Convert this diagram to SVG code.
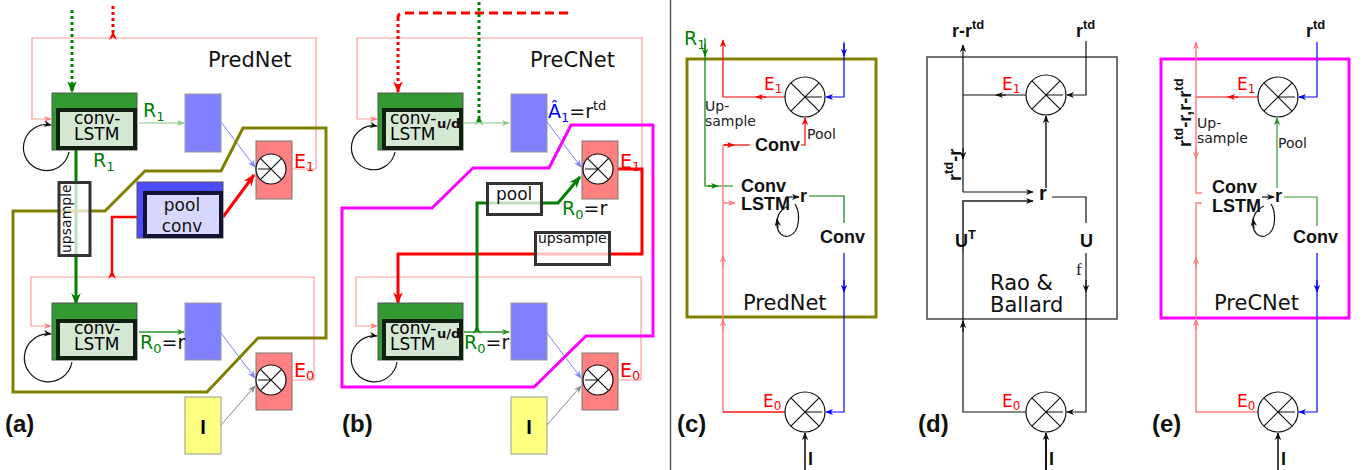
<svg xmlns="http://www.w3.org/2000/svg" width="1364" height="470" viewBox="0 0 1364 470">
<style>
.t{font-family:"DejaVu Sans",sans-serif}
.b{font-family:"Liberation Sans",Arial,sans-serif;font-weight:bold}
.lo{fill:#339933;stroke:#555;stroke-width:1}
.li{fill:#d5e8d4;stroke:#102010;stroke-width:4}
.pk{fill:none;stroke:#ff9999;stroke-width:1.2}
.bl{fill:#8080ff;stroke:#999;stroke-width:1}
.eb{fill:#ff8080;stroke:#777;stroke-width:1}
.yb{fill:#ffff80;stroke:#999;stroke-width:1}
.gb{fill:#fff;fill-opacity:.75;stroke:#333;stroke-width:3}
.op{fill:#fff;stroke:#111;stroke-width:1.2}
.ln{fill:none;stroke:#111;stroke-width:1.2}
.red{fill:#f00}.grn{fill:#008000}.blu{fill:#00f}
</style>
<defs>
<marker id="ak" viewBox="0 0 10 10" refX="9" refY="5" markerWidth="8" markerHeight="8" markerUnits="userSpaceOnUse" orient="auto"><path d="M0,1 L10,5 L0,9 L3,5 z" fill="#111"/></marker>
<marker id="agr" viewBox="0 0 10 10" refX="9" refY="5" markerWidth="8" markerHeight="8" markerUnits="userSpaceOnUse" orient="auto"><path d="M0,1 L10,5 L0,9 L3,5 z" fill="#888"/></marker>
<marker id="ar" viewBox="0 0 10 10" refX="9" refY="5" markerWidth="8" markerHeight="8" markerUnits="userSpaceOnUse" orient="auto"><path d="M0,1 L10,5 L0,9 L3,5 z" fill="#f00"/></marker>
<marker id="ar3" viewBox="0 0 10 10" refX="9" refY="5" markerWidth="12" markerHeight="12" markerUnits="userSpaceOnUse" orient="auto"><path d="M0,1 L10,5 L0,9 L3,5 z" fill="#f00"/></marker>
<marker id="ag" viewBox="0 0 10 10" refX="9" refY="5" markerWidth="8" markerHeight="8" markerUnits="userSpaceOnUse" orient="auto"><path d="M0,1 L10,5 L0,9 L3,5 z" fill="#008000"/></marker>
<marker id="ag3" viewBox="0 0 10 10" refX="9" refY="5" markerWidth="12" markerHeight="12" markerUnits="userSpaceOnUse" orient="auto"><path d="M0,1 L10,5 L0,9 L3,5 z" fill="#008000"/></marker>
<marker id="alg" viewBox="0 0 10 10" refX="9" refY="5" markerWidth="8" markerHeight="8" markerUnits="userSpaceOnUse" orient="auto"><path d="M0,1 L10,5 L0,9 L3,5 z" fill="#8fc88f"/></marker>
<marker id="amg" viewBox="0 0 10 10" refX="9" refY="5" markerWidth="8" markerHeight="8" markerUnits="userSpaceOnUse" orient="auto"><path d="M0,1 L10,5 L0,9 L3,5 z" fill="#2a922a"/></marker>
<marker id="ab" viewBox="0 0 10 10" refX="9" refY="5" markerWidth="8" markerHeight="8" markerUnits="userSpaceOnUse" orient="auto"><path d="M0,1 L10,5 L0,9 L3,5 z" fill="#00f"/></marker>
<marker id="alb" viewBox="0 0 10 10" refX="9" refY="5" markerWidth="8" markerHeight="8" markerUnits="userSpaceOnUse" orient="auto"><path d="M0,1 L10,5 L0,9 L3,5 z" fill="#8080ff"/></marker>
<marker id="ap" viewBox="0 0 10 10" refX="9" refY="5" markerWidth="8" markerHeight="8" markerUnits="userSpaceOnUse" orient="auto"><path d="M0,1 L10,5 L0,9 L3,5 z" fill="#ff8080"/></marker>
<g id="op15"><circle r="15" class="op"/><path d="M-10.6,-10.6 L10.6,10.6 M-10.6,10.6 L10.6,-10.6 M-13,0 L0,0" class="ln"/></g>
<g id="op20"><circle r="20" class="op"/><path d="M-14.1,-14.1 L14.1,14.1 M-14.1,14.1 L14.1,-14.1 M0,0 L17,0" class="ln"/></g>
</defs>
<rect width="1364" height="470" fill="#fff"/>

<!-- separator -->
<line x1="670.5" y1="0" x2="670.5" y2="470" stroke="#555" stroke-width="1.5"/>

<!-- ===== connectors ===== -->
<g id="connectors">
 <!-- (a) -->
 <path d="M292,169 L316,169 L316,38 L32,38 L32,119 L51,119" class="pk" marker-end="url(#ap)"/>
 <path d="M292,380 L314,380 L314,277 L31,277 L31,326 L51,326" class="pk" marker-end="url(#ap)"/>
 <path d="M113,6 L113,36" stroke="#f00" stroke-width="3" stroke-dasharray="3,3" fill="none"/>
 <polygon points="109,40 113,31 117,40 113,37" fill="#f00"/>
 <path d="M72,10 L72,92" stroke="#008000" stroke-width="3" stroke-dasharray="3,3" fill="none" marker-end="url(#ag3)"/>
 <path d="M69,152 A23,23 0 1 1 51,125" class="ln" marker-end="url(#ak)"/>
 <path d="M72,362 A24,24 0 1 1 51,334" class="ln" marker-end="url(#ak)"/>
 <path d="M139,123 L184,123" stroke="#a8d8a8" stroke-width="1.5" marker-end="url(#alg)"/>
 <path d="M139,332 L184,332" stroke="#2a922a" stroke-width="1.5" marker-end="url(#amg)"/>
 <path d="M221,122 L255,167" stroke="#8080ff" stroke-width="1" marker-end="url(#alb)"/>
 <path d="M221,333 L255,378" stroke="#8080ff" stroke-width="1" marker-end="url(#alb)"/>
 <path d="M221,425 L255,386" stroke="#888" stroke-width="1" marker-end="url(#agr)"/>
 <path d="M76,150 L76,304" stroke="#008000" stroke-width="3" marker-end="url(#ag3)"/>
 <path d="M223,217 L254,175" stroke="#f00" stroke-width="3" marker-end="url(#ar3)"/>
 <path d="M137,217 L112,217 L112,274" stroke="#f00" stroke-width="2.5" fill="none"/>
 <polygon points="108,279 112,270 116,279 112,276" fill="#f00"/>
 <polygon points="13,211 105,211 145,171 221,171 243,128 326,128 326,338 258,338 207,392 13,392" fill="none" stroke="#808000" stroke-width="3"/>

 <!-- (b) -->
 <path d="M618,169 L642,169 L642,38 L357,38 L357,119 L377,119" class="pk" marker-end="url(#ap)"/>
 <path d="M618,380 L641,380 L641,277 L356,277 L356,326 L377,326" class="pk" marker-end="url(#ap)"/>
 <path d="M568,13 L403,13 Q398,13 398,18" stroke="#f00" stroke-width="3" stroke-dasharray="9,5" fill="none"/>
 <path d="M398,18 L398,92" stroke="#f00" stroke-width="3" stroke-dasharray="3,3" fill="none" marker-end="url(#ar3)"/>
 <path d="M479,2 L479,118" stroke="#008000" stroke-width="3" stroke-dasharray="3,3" fill="none"/>
 <polygon points="475,125 479,115 483,125 479,122" fill="#008000"/>
 <path d="M395,152 A22,22 0 1 1 377,126" class="ln" marker-end="url(#ak)"/>
 <path d="M397,362 A23,23 0 1 1 377,336" class="ln" marker-end="url(#ak)"/>
 <path d="M464,123 L509,123" stroke="#a8d8a8" stroke-width="1.5" marker-end="url(#alg)"/>
 <path d="M464,332 L509,332" stroke="#2a922a" stroke-width="1.5" marker-end="url(#amg)"/>
 <path d="M547,122 L581,167" stroke="#8080ff" stroke-width="1" marker-end="url(#alb)"/>
 <path d="M547,333 L581,378" stroke="#8080ff" stroke-width="1" marker-end="url(#alb)"/>
 <path d="M547,425 L581,386" stroke="#888" stroke-width="1" marker-end="url(#agr)"/>
 <path d="M618,169 L642,169 L642,254 L398,254 L398,303" stroke="#f00" stroke-width="3" fill="none" marker-end="url(#ar3)"/>
 <path d="M477,330 L477,203 L558,203 L580,177" stroke="#008000" stroke-width="3" fill="none" marker-end="url(#ag3)"/>
 <polygon points="473,334 477,325 481,334 477,331" fill="#008000"/>
 <polygon points="342,208 432,208 473,168 549,168 571,125 653,125 653,336 586,336 534,387 342,387" fill="none" stroke="#f0f" stroke-width="3"/>

 <!-- (c) -->
 <rect x="687" y="59" width="189" height="258" fill="none" stroke="#808000" stroke-width="3"/>
 <path d="M705,38 L705,186 L733,186" stroke="#008000" stroke-width="1.2" fill="none"/>
 <path d="M705,44 L705,56" stroke="#008000" stroke-width="1.2" marker-end="url(#ag)"/>
 <path d="M708,186 L718,186" stroke="#008000" stroke-width="1.2" marker-end="url(#ag)"/>
 <path d="M785,97 L723,97 L723,40" stroke="#f00" stroke-width="1.2" fill="none" marker-end="url(#ar)"/>
 <path d="M766,97 L756,97" stroke="#f00" stroke-width="1.2" marker-end="url(#ar)"/>
 <path d="M844,42 L844,97 L826,97" stroke="#00f" stroke-width="1.2" fill="none" marker-end="url(#ab)"/>
 <path d="M844,44 L844,56" stroke="#00f" stroke-width="1.2" marker-end="url(#ab)"/>
 <path d="M801,145 L805,145 L805,118" stroke="#f00" stroke-width="1.2" fill="none" marker-end="url(#ar)"/>
 <path d="M750,145 L723,145" stroke="#f00" stroke-width="1.2" fill="none"/>
 <path d="M724,145 L734,145" stroke="#f00" stroke-width="1.2" marker-end="url(#ar)"/>
 <path d="M723,145 L723,412 L785,412" stroke="#ff8080" stroke-width="1.5" fill="none"/>
 <path d="M785,412 L723,412" stroke="#f00" stroke-width="1.2" fill="none"/>
 <path d="M723,203 L735,203" stroke="#ff8080" stroke-width="1.5" marker-end="url(#ap)"/>
 <path d="M723,266 L723,255" stroke="#ff8080" stroke-width="1.5" marker-end="url(#ap)"/>
 <path d="M723,330 L723,319" stroke="#ff8080" stroke-width="1.5" marker-end="url(#ap)"/>
 <path d="M786,197 L799,197" class="ln" marker-end="url(#ak)"/>
 <path d="M788,206 C770,214 776,240 789,236 C801,232 800,212 795,204" class="ln"/>
 <path d="M778,228 L777,219" class="ln" marker-end="url(#ak)"/>
 <path d="M809,196 L844,196 L844,223" stroke="#008000" stroke-width="1.2" fill="none"/>
 <path d="M844,253 L844,412 L826,412" stroke="#00f" stroke-width="1.2" fill="none" marker-end="url(#ab)"/>
 <path d="M844,280 L844,292" stroke="#00f" stroke-width="1.2" marker-end="url(#ab)"/>
 <path d="M805,470 L805,433" stroke="#444" stroke-width="2" marker-end="url(#ak)"/>

 <!-- (d) -->
 <rect x="927" y="57" width="190" height="262" fill="none" stroke="#444" stroke-width="1.5"/>
 <path d="M1086,41 L1086,95 L1067,95" class="ln" marker-end="url(#ak)"/>
 <path d="M1026,95 L963,95" class="ln"/>
 <path d="M1006,95 L996,95" class="ln" marker-end="url(#ak)"/>
 <path d="M963,192 L963,45" class="ln" marker-end="url(#ak)"/>
 <path d="M963,148 L963,159" class="ln" marker-end="url(#ak)"/>
 <path d="M963,192 L1033,192" class="ln" marker-end="url(#ak)"/>
 <path d="M963,253 L963,201 L1033,201" fill="none" stroke="#555" stroke-width="2" marker-end="url(#ak)"/>
 <path d="M1046,188 L1046,116" stroke="#555" stroke-width="2" marker-end="url(#ak)"/>
 <path d="M1052,197 L1086,197 L1086,223" class="ln"/>
 <path d="M1086,253 L1086,412 L1067,412" class="ln" marker-end="url(#ak)"/>
 <path d="M1086,280 L1086,292" class="ln" marker-end="url(#ak)"/>
 <path d="M1026,412 L963,412 L963,253" class="ln"/>
 <path d="M963,332 L963,321" class="ln" marker-end="url(#ak)"/>
 <path d="M1046,470 L1046,433" stroke="#111" stroke-width="2" marker-end="url(#ak)"/>

 <!-- (e) -->
 <rect x="1161" y="59" width="188" height="259" fill="none" stroke="#f0f" stroke-width="3"/>
 <path d="M1317,42 L1317,97 L1299,97" stroke="#00f" stroke-width="1.2" fill="none" marker-end="url(#ab)"/>
 <path d="M1258,97 L1196,97" stroke="#f00" stroke-width="1.2" fill="none"/>
 <path d="M1238,97 L1228,97" stroke="#f00" stroke-width="1.2" marker-end="url(#ar)"/>
 <path d="M1202,193 L1196,193 L1196,42" stroke="#ff8080" stroke-width="1.5" fill="none" marker-end="url(#ap)"/>
 <path d="M1196,148 L1196,159" stroke="#ff8080" stroke-width="1.5" marker-end="url(#ap)"/>
 <path d="M1277,188 L1277,118" stroke="#339933" stroke-width="1.2" marker-end="url(#amg)"/>
 <path d="M1262,197 L1274,197" class="ln" marker-end="url(#ak)"/>
 <path d="M1264,206 C1246,214 1252,240 1265,236 C1277,232 1276,212 1271,204" class="ln"/>
 <path d="M1254,228 L1253,219" class="ln" marker-end="url(#ak)"/>
 <path d="M1284,197 L1317,197 L1317,226" stroke="#339933" stroke-width="1.2" fill="none"/>
 <path d="M1317,253 L1317,412 L1299,412" stroke="#00f" stroke-width="1.2" fill="none" marker-end="url(#ab)"/>
 <path d="M1317,280 L1317,292" stroke="#00f" stroke-width="1.2" marker-end="url(#ab)"/>
 <path d="M1202,203 L1196,203 L1196,412 L1258,412" stroke="#ff8080" stroke-width="1.5" fill="none"/>
 <path d="M1196,268 L1196,257" stroke="#ff8080" stroke-width="1.5" marker-end="url(#ap)"/>
 <path d="M1196,330 L1196,319" stroke="#ff8080" stroke-width="1.5" marker-end="url(#ap)"/>
 <path d="M1278,470 L1278,433" stroke="#444" stroke-width="2" marker-end="url(#ak)"/>
</g>

<!-- ===== (a) nodes ===== -->
<g id="a-lstm1"><rect x="52" y="93" width="85" height="57" class="lo"/><rect x="58" y="110" width="77" height="38" class="li"/>
 <text x="74" y="124" class="t" font-size="17">conv-</text><text x="74" y="140" class="t" font-size="17">LSTM</text></g>
<g id="a-lstm0"><rect x="52" y="303" width="85" height="57" class="lo"/><rect x="58" y="321" width="77" height="37" class="li"/>
 <text x="74" y="334" class="t" font-size="17">conv-</text><text x="74" y="350" class="t" font-size="17">LSTM</text></g>
<g id="a-ahat1"><rect x="185" y="94" width="36" height="58" class="bl"/></g>
<g id="a-ahat0"><rect x="185" y="303" width="36" height="57" class="bl"/></g>
<g id="a-e1"><rect x="256" y="141" width="36" height="58" class="eb"/><use href="#op15" x="271" y="169"/></g>
<g id="a-e0"><rect x="256" y="353" width="36" height="57" class="eb"/><use href="#op15" x="271" y="380"/></g>
<g id="a-input"><rect x="185" y="397" width="36" height="57" class="yb"/><text x="203" y="434" class="b" font-size="20" text-anchor="middle">I</text></g>
<g id="a-upsample"><rect x="59" y="182.5" width="31" height="73" class="gb"/><text transform="translate(71,253) rotate(-90)" class="t" font-size="14" fill="#111">upsample</text></g>
<g id="a-poolconv"><rect x="137" y="182" width="86" height="56" fill="#4d4dff" stroke="#555"/><rect x="145" y="193" width="76" height="43" fill="#d8d8ff" stroke="#111133" stroke-width="4"/>
 <text x="182" y="211" class="t" font-size="17" text-anchor="middle" fill="#111">pool</text><text x="182" y="232" class="t" font-size="17" text-anchor="middle" fill="#111">conv</text></g>
<g id="a-labels">
 <text x="208" y="67" class="t" font-size="21" fill="#111">PredNet</text>
 <text x="143" y="117" class="t grn" font-size="19">R<tspan font-size="13" dy="4">1</tspan></text>
 <text x="93" y="167" class="t grn" font-size="19">R<tspan font-size="13" dy="4">1</tspan></text>
 <text x="294" y="168" class="t red" font-size="19">E<tspan font-size="13" dy="3">1</tspan></text>
 <text x="294" y="377" class="t red" font-size="19">E<tspan font-size="13" dy="3">0</tspan></text>
 <text x="140" y="349" class="t" font-size="19"><tspan class="grn">R</tspan><tspan class="grn" font-size="13" dy="4">0</tspan><tspan dy="-4" fill="#111">=r</tspan></text>
 <text x="5" y="432" class="b" font-size="24" fill="#111">(a)</text>
</g>

<!-- ===== (b) nodes ===== -->
<g id="b-lstm1"><rect x="378" y="93" width="85" height="57" class="lo"/><rect x="384" y="110" width="77" height="38" class="li"/>
 <text x="390" y="124" class="t" font-size="17">conv-</text><text x="390" y="140" class="t" font-size="17">LSTM</text>
 <text x="437" y="128" class="t" font-size="13" font-weight="bold" fill="#111">u/d</text></g>
<g id="b-lstm0"><rect x="378" y="303" width="85" height="57" class="lo"/><rect x="384" y="321" width="77" height="37" class="li"/>
 <text x="390" y="334" class="t" font-size="17">conv-</text><text x="390" y="350" class="t" font-size="17">LSTM</text>
 <text x="437" y="338" class="t" font-size="13" font-weight="bold" fill="#111">u/d</text></g>
<g id="b-ahat1"><rect x="511" y="94" width="36" height="58" class="bl"/></g>
<g id="b-ahat0"><rect x="511" y="303" width="36" height="57" class="bl"/></g>
<g id="b-e1"><rect x="582" y="141" width="36" height="58" class="eb"/><use href="#op15" x="598" y="169"/></g>
<g id="b-e0"><rect x="582" y="353" width="36" height="57" class="eb"/><use href="#op15" x="598" y="380"/></g>
<g id="b-input"><rect x="511" y="397" width="36" height="57" class="yb"/><text x="529" y="434" class="b" font-size="20" text-anchor="middle">I</text></g>
<g id="b-pool"><rect x="487.5" y="183.5" width="54" height="31" class="gb"/><text x="496" y="200" class="t" font-size="17" fill="#111">pool</text></g>
<g id="b-upsample"><rect x="535.5" y="232.5" width="74" height="32" class="gb"/><text x="538" y="243" class="t" font-size="14" fill="#111">upsample</text></g>
<g id="b-labels">
 <text x="530" y="67" class="t" font-size="21" fill="#111">PreCNet</text>
 <text x="548" y="118" class="t" font-size="19"><tspan class="blu">Â</tspan><tspan class="blu" font-size="13" dy="4">1</tspan><tspan dy="-4" fill="#111">=r</tspan><tspan font-size="13" dy="-8" fill="#111">td</tspan></text>
 <text x="620" y="168" class="t red" font-size="19">E<tspan font-size="13" dy="3">1</tspan></text>
 <text x="620" y="377" class="t red" font-size="19">E<tspan font-size="13" dy="3">0</tspan></text>
 <text x="562" y="215" class="t" font-size="19"><tspan class="grn">R</tspan><tspan class="grn" font-size="13" dy="4">0</tspan><tspan dy="-4" fill="#111">=r</tspan></text>
 <text x="464" y="349" class="t" font-size="19"><tspan class="grn">R</tspan><tspan class="grn" font-size="13" dy="4">0</tspan><tspan dy="-4" fill="#111">=r</tspan></text>
 <text x="342" y="432" class="b" font-size="24" fill="#111">(b)</text>
</g>

<!-- ===== (c) nodes ===== -->
<g id="c-e1"><use href="#op20" x="805" y="97"/></g>
<g id="c-e0"><use href="#op20" x="805" y="412"/></g>
<g id="c-texts">
 <text x="684" y="45" class="t grn" font-size="19">R<tspan font-size="13" dy="4">1</tspan></text>
 <text x="764" y="90" class="t red" font-size="17">E<tspan font-size="12" dy="3">1</tspan></text>
 <text x="763" y="407" class="t red" font-size="17">E<tspan font-size="12" dy="3">0</tspan></text>
 <text x="705" y="111" class="t" font-size="14" fill="#222">Up-</text>
 <text x="705" y="126" class="t" font-size="14" fill="#222">sample</text>
 <text x="807" y="139" class="t" font-size="14" fill="#222">Pool</text>
 <text x="755" y="151" class="b" font-size="18" fill="#111">Conv</text>
 <text x="741" y="192" class="b" font-size="18" fill="#111">Conv</text>
 <text x="741" y="210" class="b" font-size="18" fill="#111">LSTM</text>
 <text x="800" y="202" class="b" font-size="18" fill="#111">r</text>
 <text x="820" y="243" class="b" font-size="18" fill="#111">Conv</text>
 <text x="743" y="310" class="t" font-size="21" fill="#111">PredNet</text>
 <text x="808" y="465" class="b" font-size="18" fill="#111">I</text>
 <text x="677" y="432" class="b" font-size="24" fill="#111">(c)</text>
</g>

<!-- ===== (d) nodes ===== -->
<g id="d-e1"><use href="#op20" x="1046" y="95"/></g>
<g id="d-e0"><use href="#op20" x="1046" y="412"/></g>
<g id="d-texts">
 <text x="952" y="37" class="b" font-size="18" fill="#111">r-r<tspan font-size="13" dy="-8">td</tspan></text>
 <text x="1076" y="37" class="b" font-size="18" fill="#111">r<tspan font-size="13" dy="-8">td</tspan></text>
 <text x="1002" y="90" class="t red" font-size="17">E<tspan font-size="12" dy="3">1</tspan></text>
 <text x="1002" y="407" class="t red" font-size="17">E<tspan font-size="12" dy="3">0</tspan></text>
 <text transform="translate(961,181) rotate(-90)" class="b" font-size="18" fill="#111">r<tspan font-size="13" dy="-8">td</tspan><tspan dy="8">-r</tspan></text>
 <text x="1039" y="200" class="b" font-size="20" fill="#111">r</text>
 <text x="955" y="247" class="b" font-size="18" fill="#111">U<tspan font-size="13" dy="-8">T</tspan></text>
 <text x="1080" y="247" class="b" font-size="18" fill="#111">U</text>
 <text x="1076" y="275" font-family="'Liberation Serif',serif" font-size="17" fill="#111">f</text>
 <text x="990" y="290" class="t" font-size="21" fill="#111">Rao &amp;</text>
 <text x="990" y="312" class="t" font-size="21" fill="#111">Ballard</text>
 <text x="1049" y="465" class="b" font-size="18" fill="#111">I</text>
 <text x="918" y="432" class="b" font-size="24" fill="#111">(d)</text>
</g>

<!-- ===== (e) nodes ===== -->
<g id="e-e1"><use href="#op20" x="1278" y="97"/></g>
<g id="e-e0"><use href="#op20" x="1278" y="412"/></g>
<g id="e-texts">
 <text x="1306" y="37" class="b" font-size="18" fill="#111">r<tspan font-size="13" dy="-8">td</tspan></text>
 <text x="1237" y="90" class="t red" font-size="17">E<tspan font-size="12" dy="3">1</tspan></text>
 <text x="1237" y="407" class="t red" font-size="17">E<tspan font-size="12" dy="3">0</tspan></text>
 <text transform="translate(1191,147) rotate(-90)" class="b" font-size="18" fill="#111">r<tspan font-size="13" dy="-8">td</tspan><tspan dy="8">-r,r-r</tspan><tspan font-size="13" dy="-8">td</tspan></text>
 <text x="1197" y="128" class="t" font-size="14" fill="#222">Up-</text>
 <text x="1197" y="143" class="t" font-size="14" fill="#222">sample</text>
 <text x="1278" y="148" class="t" font-size="14" fill="#222">Pool</text>
 <text x="1212" y="193" class="b" font-size="18" fill="#111">Conv</text>
 <text x="1212" y="212" class="b" font-size="18" fill="#111">LSTM</text>
 <text x="1275" y="202" class="b" font-size="18" fill="#111">r</text>
 <text x="1293" y="243" class="b" font-size="18" fill="#111">Conv</text>
 <text x="1214" y="310" class="t" font-size="21" fill="#111">PreCNet</text>
 <text x="1281" y="465" class="b" font-size="18" fill="#111">I</text>
 <text x="1152" y="432" class="b" font-size="24" fill="#111">(e)</text>
</g>
</svg>
